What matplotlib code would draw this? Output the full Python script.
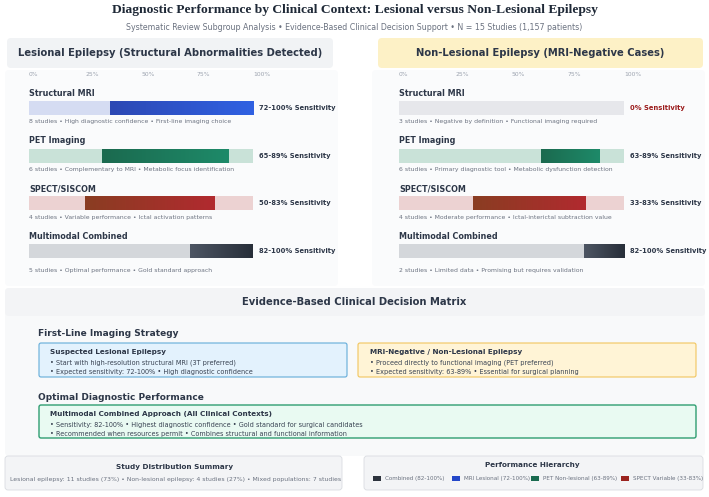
import numpy as np
import matplotlib
matplotlib.use("Agg")
import matplotlib.pyplot as plt
from matplotlib.patches import FancyBboxPatch, Rectangle
from matplotlib.colors import LinearSegmentedColormap

# ---- data ----
methods = ["Structural MRI", "PET Imaging", "SPECT/SISCOM", "Multimodal Combined"]

les_start = [36, 32.5, 25, 72]
les_end = [100, 89, 83, 100]
les_labels = ["72-100% Sensitivity", "65-89% Sensitivity", "50-83% Sensitivity", "82-100% Sensitivity"]
les_notes = ["8 studies \u2022 High diagnostic confidence \u2022 First-line imaging choice",
             "6 studies \u2022 Complementary to MRI \u2022 Metabolic focus identification",
             "4 studies \u2022 Variable performance \u2022 Ictal activation patterns",
             "5 studies \u2022 Optimal performance \u2022 Gold standard approach"]

non_start = [0, 63, 33, 82]
non_end = [0, 89, 83, 100]
non_labels = ["0% Sensitivity", "63-89% Sensitivity", "33-83% Sensitivity", "82-100% Sensitivity"]
non_notes = ["3 studies \u2022 Negative by definition \u2022 Functional imaging required",
             "6 studies \u2022 Primary diagnostic tool \u2022 Metabolic dysfunction detection",
             "4 studies \u2022 Moderate performance \u2022 Ictal-interictal subtraction value",
             "2 studies \u2022 Limited data \u2022 Promising but requires validation"]

ticks = [0, 25, 50, 75, 100]

legend_names = ["Combined (82-100%)", "MRI Lesional (72-100%)", "PET Non-lesional (63-89%)", "SPECT Variable (33-83%)"]

# colours per method: (gradient left, gradient right), tracks
grad_cols = [("#2c48b4", "#3061e2"), ("#1b6a4f", "#1e8a69"), ("#8a3d22", "#b12a2f"), ("#4d5563", "#272e39")]
les_tracks = ["#d5dcf2", "#c9e2d8", "#ecd2d2", "#d4d7db"]
non_tracks = ["#e6e7eb", "#c9e2d8", "#ecd2d2", "#d4d7db"]
legend_cols = ["#2d333d", "#2447c9", "#1a6b50", "#9b2420"]

DARK = "#2d3748"
GRAY = "#6b7280"
LIGHT = "#9ca3af"

W, H = 709, 497
fig = plt.figure(figsize=(W / 100, H / 100), dpi=100)
fig.patch.set_facecolor("white")

bg = fig.add_axes([0, 0, 1, 1])
bg.set_xlim(0, W)
bg.set_ylim(H, 0)
bg.axis("off")


def box(x0, y0, x1, y1, fc, ec="none", lw=0.8, r=3, z=0):
    p = FancyBboxPatch((x0, y0), x1 - x0, y1 - y0, boxstyle="round,pad=0,rounding_size=%s" % r,
                       fc=fc, ec=ec, lw=lw, zorder=z)
    bg.add_patch(p)


# title
bg.text(W / 2, 10, "Diagnostic Performance by Clinical Context: Lesional versus Non-Lesional Epilepsy",
        ha="center", va="center", fontsize=9.7, fontweight="bold", family="Liberation Serif", color="#1f2937")
bg.text(W / 2, 27, "Systematic Review Subgroup Analysis \u2022 Evidence-Based Clinical Decision Support \u2022 "
        "N = 15 Studies (1,157 patients)", ha="center", va="center", fontsize=5.7, color=GRAY)

# panel backgrounds and headers
box(5, 70, 338, 286, "#fafbfc", r=4)
box(372, 70, 705, 286, "#fafbfc", r=4)
box(7, 38, 333, 68, "#f1f3f5", r=4, z=1)
box(378, 38, 703, 68, "#fdf1c6", r=4, z=1)
bg.text(170, 53, "Lesional Epilepsy (Structural Abnormalities Detected)", ha="center", va="center",
        fontsize=7.2, fontweight="bold", color=DARK, zorder=2)
bg.text(540, 53, "Non-Lesional Epilepsy (MRI-Negative Cases)", ha="center", va="center",
        fontsize=7.2, fontweight="bold", color=DARK, zorder=2)


def panel(x0, x1, starts, ends, labels, notes, tracks, label_cols):
    top, bot = 84, 275
    ax = fig.add_axes([x0 / W, 1 - bot / H, (x1 - x0) / W, (bot - top) / H])
    ax.set_xlim(0, 100)
    ax.set_ylim(3.5, -0.5)
    ax.axis("off")
    y = np.arange(len(methods))
    ax.barh(y, [100] * len(y), height=0.29, color=tracks, zorder=1)
    bars = ax.barh(y, np.array(ends) - np.array(starts), left=starts, height=0.29, color="none", zorder=2)
    for i, b in enumerate(bars):
        if ends[i] <= starts[i]:
            continue
        cmap = LinearSegmentedColormap.from_list("g%d" % i, grad_cols[i])
        im = ax.imshow(np.linspace(0, 1, 64).reshape(1, -1), extent=[starts[i], ends[i], i + 0.145, i - 0.145],
                       aspect="auto", cmap=cmap, zorder=3)
        im.set_clip_path(b)
    ax.set_xlim(0, 100)
    ax.set_ylim(3.5, -0.5)
    for t in ticks:
        ax.text(t, -0.5 - 10 / 47.75, "%d%%" % t, ha="left", va="center", fontsize=4.3, color=LIGHT)
    for i, m in enumerate(methods):
        ax.text(0, i - 0.31, m, ha="left", va="center", fontsize=5.8, fontweight="bold", color=DARK)
        ax.annotate(labels[i], (100, i), xytext=(6, 0), textcoords="offset pixels", ha="left", va="center",
                    fontsize=4.9, fontweight="bold", color=label_cols[i], annotation_clip=False)
        dy = 0.29 if i < 3 else 0.4
        ax.text(0, i + dy, notes[i], ha="left", va="center", fontsize=4.4, color=GRAY)


panel(29, 253, les_start, les_end, les_labels, les_notes, les_tracks, [DARK] * 4)
panel(399, 624, non_start, non_end, non_labels, non_notes, non_tracks, ["#9b1c1c", DARK, DARK, DARK])

# decision matrix
box(5, 288, 705, 456, "#f8f9fa", r=4)
box(5, 288, 705, 316, "#f3f4f6", r=4, z=0.5)
bg.text(W / 2, 302, "Evidence-Based Clinical Decision Matrix", ha="center", va="center",
        fontsize=7.2, fontweight="bold", color=DARK)

BUL = "#374151"
bg.text(38, 334, "First-Line Imaging Strategy", ha="left", va="center", fontsize=6.5, fontweight="bold", color=DARK)
box(39, 343, 347, 377, "#e3f2fd", ec="#64acd9", r=2, z=1)
bg.text(50, 352, "Suspected Lesional Epilepsy", ha="left", va="center", fontsize=5.2, fontweight="bold", color=DARK, zorder=2)
bg.text(50, 363, "\u2022 Start with high-resolution structural MRI (3T preferred)", ha="left", va="center",
        fontsize=4.7, color=BUL, zorder=2)
bg.text(50, 372, "\u2022 Expected sensitivity: 72-100% \u2022 High diagnostic confidence", ha="left", va="center",
        fontsize=4.7, color=BUL, zorder=2)

box(358, 343, 696, 377, "#fff4d6", ec="#f1c55e", r=2, z=1)
bg.text(370, 352, "MRI-Negative / Non-Lesional Epilepsy", ha="left", va="center", fontsize=5.2, fontweight="bold", color=DARK, zorder=2)
bg.text(370, 363, "\u2022 Proceed directly to functional imaging (PET preferred)", ha="left", va="center",
        fontsize=4.7, color=BUL, zorder=2)
bg.text(370, 372, "\u2022 Expected sensitivity: 63-89% \u2022 Essential for surgical planning", ha="left", va="center",
        fontsize=4.7, color=BUL, zorder=2)

bg.text(38, 397, "Optimal Diagnostic Performance", ha="left", va="center", fontsize=6.5, fontweight="bold", color=DARK)
box(39, 405, 696, 438, "#e9faf2", ec="#2f9e71", lw=1.0, r=2, z=1)
bg.text(50, 414, "Multimodal Combined Approach (All Clinical Contexts)", ha="left", va="center", fontsize=5.2,
        fontweight="bold", color=DARK, zorder=2)
bg.text(50, 425, "\u2022 Sensitivity: 82-100% \u2022 Highest diagnostic confidence \u2022 Gold standard for surgical candidates",
        ha="left", va="center", fontsize=4.7, color=BUL, zorder=2)
bg.text(50, 434, "\u2022 Recommended when resources permit \u2022 Combines structural and functional information",
        ha="left", va="center", fontsize=4.7, color=BUL, zorder=2)

# bottom summary boxes
box(5, 456, 342, 490, "#f3f4f6", ec="#d9dce1", lw=0.6, r=3, z=1)
bg.text(175, 467, "Study Distribution Summary", ha="center", va="center", fontsize=5.2, fontweight="bold", color=DARK, zorder=2)
bg.text(176, 479, "Lesional epilepsy: 11 studies (73%) \u2022 Non-lesional epilepsy: 4 studies (27%) \u2022 Mixed populations: 7 studies",
        ha="center", va="center", fontsize=4.4, color=GRAY, zorder=2)

box(364, 456, 703, 490, "#f3f4f6", ec="#d9dce1", lw=0.6, r=3, z=1)
bg.text(532, 465, "Performance Hierarchy", ha="center", va="center", fontsize=5.2, fontweight="bold", color=DARK, zorder=2)
sw_x = [373, 452, 531, 621]
for sx, name, col in zip(sw_x, legend_names, legend_cols):
    bg.add_patch(Rectangle((sx, 476), 8, 5, fc=col, ec="none", zorder=2))
    bg.text(sx + 12, 478.5, name, ha="left", va="center", fontsize=4.1, color=GRAY, zorder=2)

fig.savefig("out.png", dpi=100, facecolor="white")
